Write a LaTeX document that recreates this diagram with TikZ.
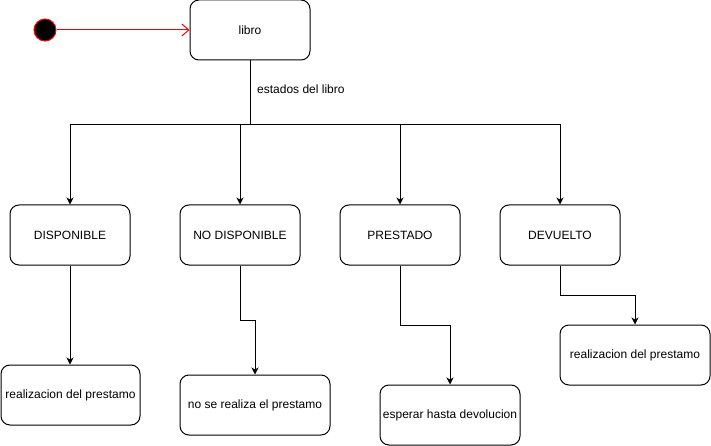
\documentclass[tikz,border=0pt]{standalone}
\usepackage{fontspec}
\setmainfont{Liberation Sans}
\usetikzlibrary{arrows.meta}
\begin{document}
\begin{tikzpicture}[x=1pt,y=-1pt,
  state/.style={draw=black,line width=1pt,rounded corners=9pt,fill=white,
    minimum width=120pt,minimum height=60pt,inner sep=0pt,
    font=\fontsize{12pt}{14pt}\selectfont},
  wide/.style={state,minimum width=#1},
  arr/.style={line width=1pt,-{Stealth[length=7pt,width=7pt,inset=2pt]}},
  conn/.style={line width=1pt}]
\useasboundingbox (0,0) rectangle (711,446);
\node[circle,draw=red,fill=black,line width=1pt,minimum size=22pt,inner sep=0pt] (start) at (45,30) {};
\node[state] (libro) at (250,30) {libro};
\node[state] (disp) at (70,235) {DISPONIBLE};
\node[state] (nodisp) at (240,235) {NO DISPONIBLE};
\node[state] (prest) at (400,235) {PRESTADO};
\node[state] (dev) at (560,235) {DEVUELTO};
\node[wide=139pt] (r1) at (70.5,395) {realizacion del prestamo};
\node[wide=150pt] (r2) at (255,405) {no se realiza el prestamo};
\node[wide=140pt] (r3) at (450,415) {esperar hasta devolucion};
\node[wide=150pt] (r4) at (635,355) {realizacion del prestamo};
\coordinate (j) at (250,125);
\draw[red,line width=1pt,-{Straight Barb[length=7pt,width=12pt,line width=1pt]}] (start) -- (libro);
\draw[conn] (libro.south) -- (j);
\node[anchor=west,font=\fontsize{12pt}{14pt}\selectfont,inner sep=0pt] (lab) at (257,89) {estados del libro};
\draw[arr] (j) -| (disp.north);
\draw[arr] (j) -| (nodisp.north);
\draw[arr] (j) -| (prest.north);
\draw[arr] (j) -| (dev.north);
\draw[arr] (disp.south) -- (disp.south |- r1.north);
\draw[arr] (nodisp.south) -- ++(0,55) -| (r2.north);
\draw[arr] (prest.south) -- ++(0,60) -| (r3.north);
\draw[arr] (dev.south) -- ++(0,30) -| (r4.north);
\end{tikzpicture}
\end{document}
